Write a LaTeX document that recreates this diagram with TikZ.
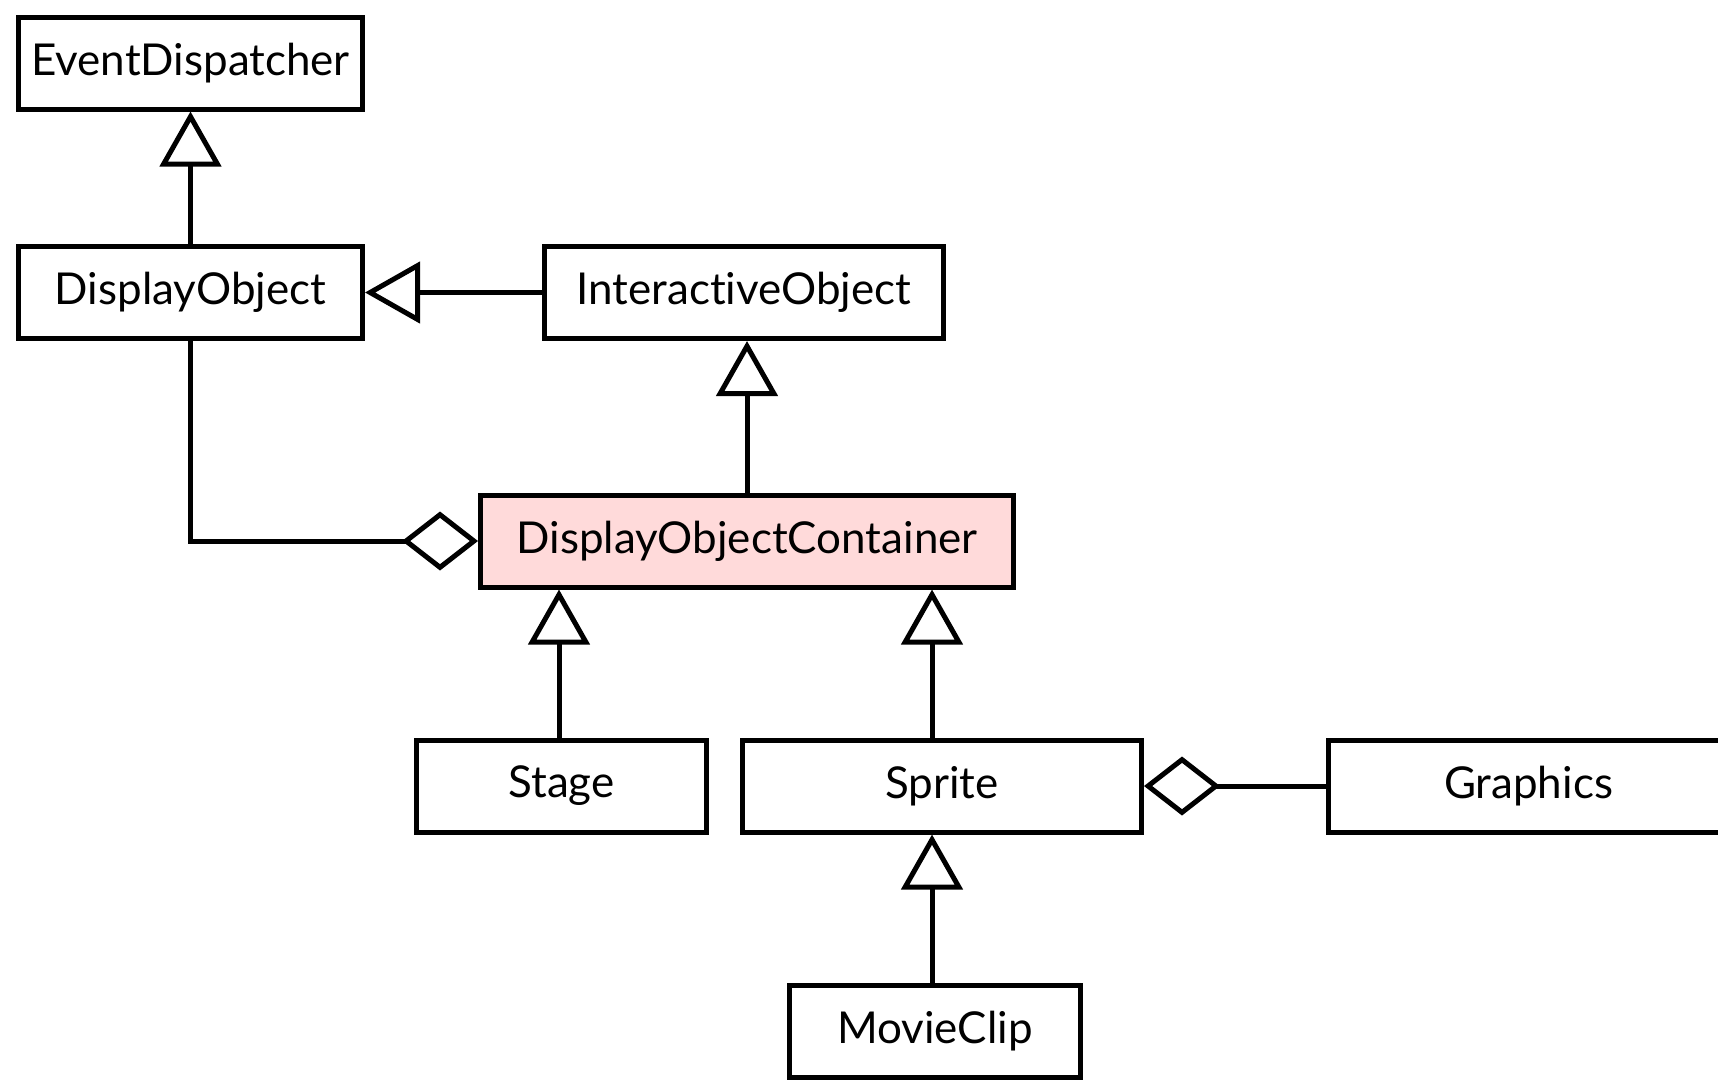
\documentclass[tikz,border=0pt]{standalone}
\usepackage{fontspec}
\setmainfont{Lato}[Ligatures=CommonOff]
\usepackage{tikz}
\usetikzlibrary{arrows.meta, positioning, calc}
\definecolor{CP}{RGB}{255,218,218}
\definecolor{DK}{RGB}{0,0,0}

\begin{document}
\begin{tikzpicture}[
  cls/.style={draw=DK, line width=0.1cm, fill=white,
              minimum height=1.84cm, inner sep=0pt,
              font=\fontsize{25}{29}\selectfont},
  inherit/.style={draw=DK, line width=0.1cm,
                  -{Triangle[length=1.1cm, width=1.22cm, fill=white]}},
  aggr/.style={draw=DK, line width=0.1cm,
               -{Diamond[length=1.52cm, width=1.18cm, fill=white]}}
]
\useasboundingbox (0,0) rectangle (34.36,-21.64);

\node[cls, minimum width=6.88cm]  (ED)  at (3.81,-1.26)   {EventDispatcher};
\node[cls, minimum width=6.88cm]  (DO)  at (3.81,-5.85)   {DisplayObject};
\node[cls, minimum width=7.98cm]  (IO)  at (14.88,-5.85)  {InteractiveObject};
\node[cls, minimum width=10.66cm, fill=CP] (DOC) at (14.94,-10.82) {DisplayObjectContainer};
\node[cls, minimum width=5.80cm]  (ST)  at (11.23,-15.72) {Stage};
\node[cls, minimum width=7.98cm]  (SP)  at (18.84,-15.72) {Sprite};
\node[cls, minimum width=8.00cm]  (GR)  at (30.57,-15.72) {Graphics};
\node[cls, minimum width=5.82cm]  (MC)  at (18.70,-20.63) {MovieClip};

% generalisation
\draw[inherit] (DO.north) -- (ED.south);
\draw[inherit] (IO.west) -- (DO.east);
\draw[inherit] (DOC.north) -- (DOC.north |- IO.south);
\draw[inherit] ([xshift=-0.05cm]ST.north) -- ([xshift=-0.05cm]ST.north |- DOC.south);
\draw[inherit] ([xshift=-0.2cm]SP.north) -- ([xshift=-0.2cm]SP.north |- DOC.south);
\draw[inherit] ([xshift=-0.06cm]MC.north) -- ([xshift=-0.06cm]MC.north |- SP.south);

% aggregation
\draw[aggr] (DO.south) |- (DOC.west);
\draw[aggr] (GR.west) -- (SP.east);
\end{tikzpicture}
\end{document}
